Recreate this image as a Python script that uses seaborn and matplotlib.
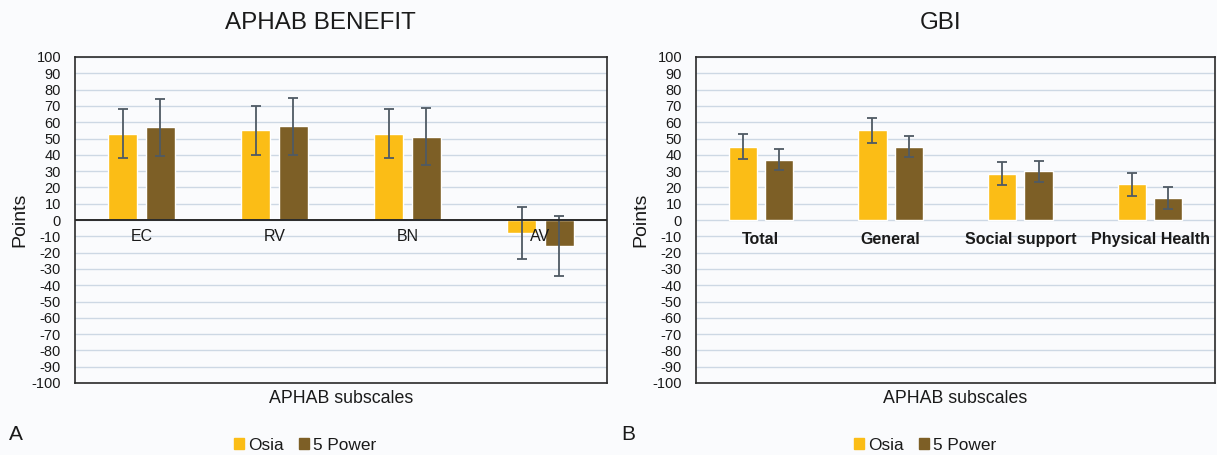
#!/usr/bin/env python3
import seaborn as sns
import matplotlib.pyplot as plt
import matplotlib.patches as mpatches
import pandas as pd

# APHAB benefit (panel A)
aphab_cats = ["EC", "RV", "BN", "AV"]
aphab_osia = [53, 55, 53, -8]
aphab_osia_err = [15, 15, 15, 16]
aphab_5p = [57, 57.5, 51, -16]
aphab_5p_err = [17.5, 17.5, 17.5, 18.5]

# GBI (panel B)
gbi_cats = ["Total", "General", "Social support", "Physical Health"]
gbi_osia = [45, 55, 28.5, 22]
gbi_osia_err = [7.5, 7.5, 7, 7]
gbi_5p = [37, 45, 30, 13.5]
gbi_5p_err = [6.5, 6.5, 6.5, 6.5]

groups = ["Osia", "5 Power"]
colors = {"Osia": "#fbbd16", "5 Power": "#7d5f26"}
yticks = list(range(100, -101, -10))

BG = "#fafbfd"
GRID = "#cdd8e4"
FRAME = "#2a2a2a"
ERR = "#4f5a64"


def make_df(cats, osia, p5):
    return pd.DataFrame({
        "cat": cats * 2,
        "group": ["Osia"] * len(cats) + ["5 Power"] * len(cats),
        "value": list(osia) + list(p5),
    })


def draw_panel(ax, cats, osia, osia_err, p5, p5_err, bold_labels, black_zero, label_y):
    df = make_df(cats, osia, p5)
    sns.barplot(data=df, x="cat", y="value", hue="group", order=cats,
                hue_order=groups, palette=colors, saturation=1, width=0.56, gap=0.22,
                errorbar=None, legend=False, ax=ax, zorder=3)
    errs = list(osia_err) + list(p5_err)
    vals = list(osia) + list(p5)
    bars = [p for p in ax.patches if isinstance(p, mpatches.Rectangle)][:len(vals)]
    xs = [b.get_x() + b.get_width() / 2 for b in bars]
    ax.errorbar(xs, vals, yerr=errs, fmt="none", ecolor=ERR, elinewidth=1.3,
                capsize=3.5, capthick=1.3, zorder=4)

    ax.set_ylim(-100, 100)
    ax.set_xlim(-0.5, len(cats) - 0.5)
    ax.set_yticks(yticks)
    ax.set_yticklabels([str(t) for t in yticks], fontsize=10.5)
    ax.tick_params(axis="y", length=0, pad=10)
    ax.set_xticks([])
    ax.set_xlabel("APHAB subscales", fontsize=12.8, labelpad=5)
    ax.set_ylabel("Points", fontsize=14, labelpad=2)
    ax.yaxis.grid(True, color=GRID, lw=1.0, zorder=0)
    ax.set_axisbelow(True)
    ax.set_facecolor(BG)
    for s in ax.spines.values():
        s.set_visible(True)
        s.set_color(FRAME)
        s.set_linewidth(1.2)
    if black_zero:
        ax.axhline(0, color=FRAME, lw=1.4, zorder=5)
    for i, c in enumerate(cats):
        ax.text(i, label_y, c, ha="center", va="center", fontsize=11.5,
                fontweight="bold" if bold_labels else "normal", color="#1a1a1a")


sns.set_theme(style="white")
plt.rcParams["font.family"] = ["Liberation Sans", "DejaVu Sans"]
plt.rcParams["text.color"] = "#1a1a1a"
plt.rcParams["ytick.color"] = "#1a1a1a"
plt.rcParams["axes.labelcolor"] = "#1a1a1a"

fig = plt.figure(figsize=(12.17, 4.55), dpi=100, facecolor=BG)
ax1 = fig.add_axes([75 / 1217, 1 - 383 / 455, 532 / 1217, 326 / 455])
ax2 = fig.add_axes([696 / 1217, 1 - 383 / 455, 519 / 1217, 326 / 455])

draw_panel(ax1, aphab_cats, aphab_osia, aphab_osia_err, aphab_5p, aphab_5p_err,
           bold_labels=False, black_zero=True, label_y=-10)
draw_panel(ax2, gbi_cats, gbi_osia, gbi_osia_err, gbi_5p, gbi_5p_err,
           bold_labels=True, black_zero=False, label_y=-12)

fig.text(320 / 1217, 1 - 23 / 455, "APHAB BENEFIT", ha="center", va="center", fontsize=17.4)
fig.text(941 / 1217, 1 - 23 / 455, "GBI", ha="center", va="center", fontsize=17.4)
fig.text(9 / 1217, 1 - 434 / 455, "A", ha="left", va="center", fontsize=15)
fig.text(621 / 1217, 1 - 434 / 455, "B", ha="left", va="center", fontsize=15)

handles = [mpatches.Patch(color=colors[g], label=g) for g in groups]
for cx in (305, 925):
    fig.legend(handles=handles, loc="center", bbox_to_anchor=(cx / 1217, 1 - 445 / 455),
               ncol=2, frameon=False, fontsize=12.4, handlelength=0.6, handleheight=0.6,
               handletextpad=0.2, columnspacing=0.9)

fig.savefig("out.png", dpi=100, facecolor=BG)
